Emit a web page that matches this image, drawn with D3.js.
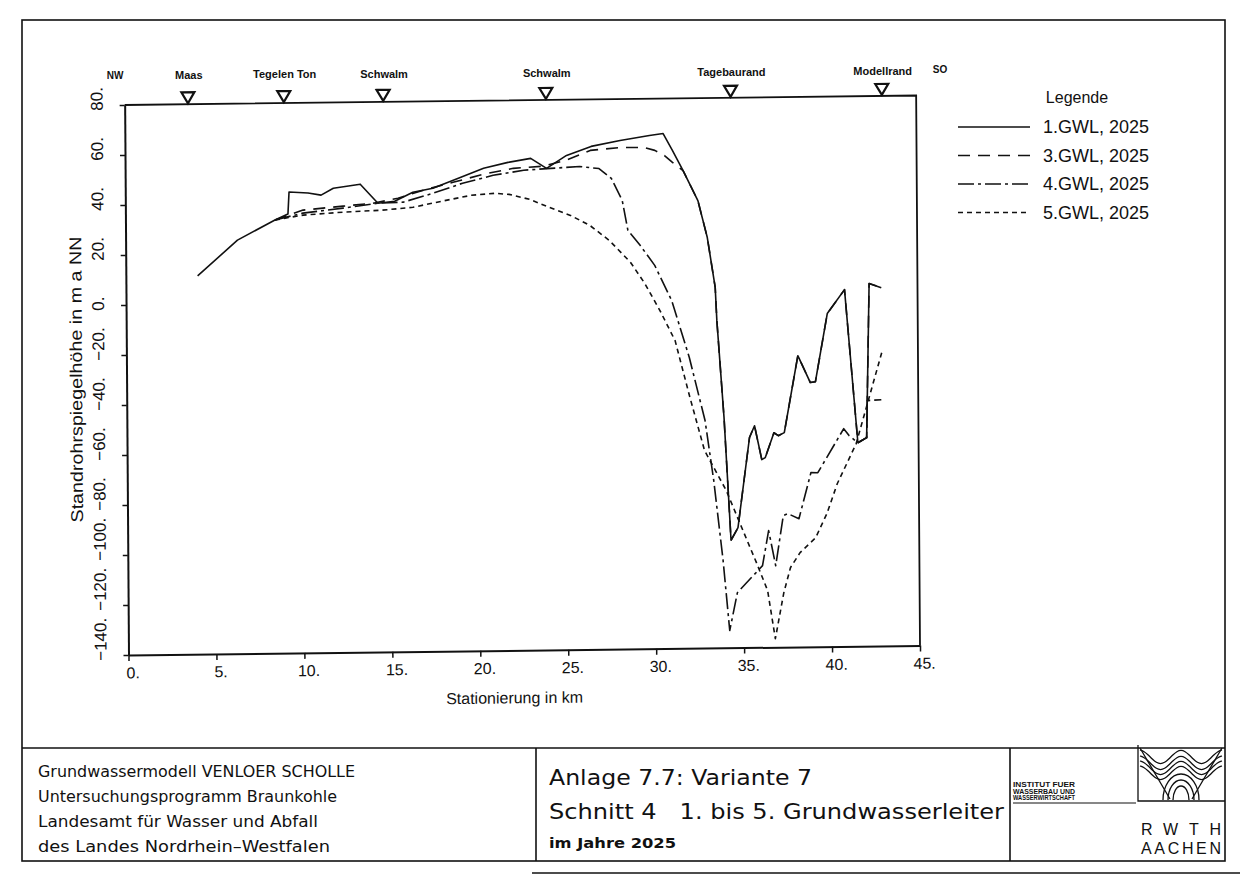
<!DOCTYPE html>
<html>
<head>
<meta charset="utf-8">
<script src="https://cdn.jsdelivr.net/npm/d3@7"></script>
<style>
	body { margin: 0; background: #fff; }
	svg { display: block; }
	text { font-family: "Liberation Sans", Arial, sans-serif; fill: #111; }
</style>
</head>
<body>
<script>
/* Data: [Stationierung km, Standrohrspiegelhoehe m] */
const gwl1 = [
	[4.08, 11.3], [6.36, 25.4], [8.5, 33.3], [9.24, 35.6], [9.31, 44.4], [10.39, 43.9],
	[11.13, 43.0], [11.83, 45.7], [13.36, 47.2], [14.36, 39.5], [15.31, 40.2], [16.35, 43.7],
	[17.49, 45.2], [18.94, 49.1], [20.38, 53.0], [21.77, 55.2], [23.06, 56.7], [23.96, 52.6],
	[25.1, 57.7], [26.5, 61.2], [28.15, 63.4], [29.82, 65.3], [30.6, 66.0], [31.12, 59.2],
	[31.72, 51.1], [32.55, 39.0], [33.07, 24.2], [33.5, 4.2], [33.58, -9.0], [33.95, -47.9],
	[34.3, -97.0], [34.7, -92.0], [35.39, -56.0], [35.68, -51.3], [36.08, -64.9], [36.28, -64.1],
	[36.78, -54.2], [37.03, -55.4], [37.37, -54.2], [38.17, -23.5], [38.87, -34.3], [39.16, -34.0],
	[39.86, -6.8], [40.85, 2.7], [41.55, -58.6], [42.05, -56.6], [42.25, 5.0], [42.94, 3.3]
];

const gwl3 = [
	[8.5, 33.3], [10.1, 37.1], [12.38, 38.5], [14.07, 39.5], [15.5, 41.4], [16.95, 44.5],
	[18.64, 47.5], [20.38, 50.6], [22.07, 52.8], [23.76, 53.5], [25.05, 55.7], [26.45, 59.6],
	[28.15, 60.6], [29.52, 60.5], [30.12, 59.3], [30.67, 57.2], [31.12, 54.4], [31.72, 51.1],
	[32.55, 39.0], [33.07, 24.2], [33.5, 4.2], [33.58, -9.0], [33.95, -47.9], [34.3, -97.0],
	[34.7, -92.0], [35.39, -56.0], [35.68, -51.3], [36.08, -64.9], [36.28, -64.1], [36.78, -54.2],
	[37.03, -55.4], [37.37, -54.2], [38.17, -23.5], [38.87, -34.3], [39.16, -34.0], [39.86, -6.8],
	[40.85, 2.7], [41.55, -58.6], [42.05, -56.6], [42.25, 5.0], [42.94, 3.3]
];

const gwl4 = [
	[8.5, 33.3], [10.09, 35.9], [12.38, 37.7], [14.36, 39.5], [15.8, 39.8], [17.49, 43.2],
	[19.18, 47.1], [20.92, 50.1], [22.66, 52.0], [24.2, 52.6], [25.84, 53.2], [26.94, 52.3],
	[27.64, 48.3], [28.25, 39.4], [28.56, 27.4], [29.26, 21.3], [30.07, 13.3], [31.02, -0.8],
	[32.0, -23.7], [32.87, -49.0], [33.34, -73.0], [33.84, -105.0], [34.19, -133.1], [34.64, -118.0],
	[36.08, -107.3], [36.44, -93.3], [36.83, -107.4], [37.28, -87.4], [37.53, -86.6], [38.17, -88.7],
	[38.87, -70.3], [39.26, -70.4], [40.75, -52.9], [41.05, -55.7], [41.55, -58.6], [42.05, -56.6],
	[42.1, -41.8], [42.9, -41.5]
];

const gwl5 = [
	[8.5, 33.3], [10.1, 35.1], [12.38, 36.1], [14.61, 36.7], [16.35, 37.7], [18.0, 40.0],
	[19.65, 42.2], [21.02, 42.9], [21.82, 42.4], [23.0, 40.3], [24.1, 37.0], [25.3, 33.7],
	[26.4, 29.6], [27.5, 23.5], [28.7, 14.6], [29.5, 6.1], [30.35, -4.8], [31.2, -16.9],
	[32.02, -39.7], [32.83, -61.0], [34.05, -77.1], [34.82, -90.4], [35.76, -106.5], [36.36, -117.3],
	[36.78, -136.6], [37.28, -118.2], [37.67, -108.2], [38.22, -102.3], [39.11, -96.4], [39.76, -86.8],
	[40.36, -74.9], [41.45, -59.0], [42.94, -22.7]
];

const seriesNames = ["1.GWL, 2025", "3.GWL, 2025", "4.GWL, 2025", "5.GWL, 2025"];
const seriesValues = [gwl1, gwl3, gwl4, gwl5];
const seriesDash = [null, "12,8", "16,4,3,4", "5,4"];

const xTicks = [0, 5, 10, 15, 20, 25, 30, 35, 40, 45];
const yTicks = [-140, -120, -100, -80, -60, -40, -20, 0, 20, 40, 60, 80];

const markerNames = ["Maas", "Tegelen Ton", "Schwalm", "Schwalm", "Tagebaurand", "Modellrand"];
const markerKm = [3.6, 9.05, 14.7, 23.95, 34.45, 43.05];

const blockLeft = [
	"Grundwassermodell VENLOER SCHOLLE",
	"Untersuchungsprogramm Braunkohle",
	"Landesamt für Wasser und Abfall",
	"des Landes Nordrhein\u2013Westfalen"
];
const blockLeftWidth = [317, 299, 280, 292];
const instituteLines = ["INSTITUT FUER", "WASSERBAU UND", "WASSERWIRTSCHAFT"];

/* Page */
const width = 1250;
const height = 879;

const svg = d3.select("body").append("svg")
	.attr("width", width)
	.attr("height", height);

const page = svg.append("g");

// the plotted diagram sits slightly skewed on the scanned sheet
const plot = page.append("g")
	.attr("transform", "translate(128,655) matrix(1,-0.012,0.007,1,0,0) translate(-128,-655)");

const xScale = d3.scaleLinear().domain([0, 45]).range([128.5, 920]);
const yScale = d3.scaleLinear().domain([-140, 80]).range([655, 105]);

/* Sheet frame and title block */
const frame = page.append("g")
	.attr("fill", "none")
	.attr("stroke", "#111")
	.attr("stroke-width", 1.6);

frame.append("rect")
	.attr("x", 22).attr("y", 20)
	.attr("width", 1203).attr("height", 841);
frame.append("line").attr("x1", 22).attr("x2", 1225).attr("y1", 748).attr("y2", 748);
frame.append("line").attr("x1", 536).attr("x2", 536).attr("y1", 748).attr("y2", 861);
frame.append("line").attr("x1", 1010).attr("x2", 1010).attr("y1", 748).attr("y2", 861);
frame.append("line").attr("x1", 532).attr("x2", 1240).attr("y1", 873).attr("y2", 873)
	.attr("stroke-width", 1.3);

page.append("g")
	.selectAll("text")
	.data(blockLeft)
	.join("text")
	.attr("x", 38)
	.attr("y", (d, i) => 777 + i * 25)
	.attr("textLength", (d, i) => blockLeftWidth[i])
	.attr("lengthAdjust", "spacingAndGlyphs")
	.style("font-family", "'DejaVu Sans', sans-serif")
	.style("font-size", "15px")
	.text((d) => d);

page.append("text")
	.attr("x", 549).attr("y", 785)
	.attr("textLength", 263)
	.attr("lengthAdjust", "spacingAndGlyphs")
	.style("font-family", "'DejaVu Sans', sans-serif")
	.style("font-size", "21px")
	.text("Anlage 7.7: Variante 7");

page.append("text")
	.attr("x", 549).attr("y", 819)
	.attr("textLength", 455)
	.attr("lengthAdjust", "spacingAndGlyphs")
	.style("white-space", "pre")
	.style("font-family", "'DejaVu Sans', sans-serif")
	.style("font-size", "21px")
	.text("Schnitt 4   1. bis 5. Grundwasserleiter");

page.append("text")
	.attr("x", 549).attr("y", 848)
	.attr("textLength", 127)
	.attr("lengthAdjust", "spacingAndGlyphs")
	.style("font-family", "'DejaVu Sans', sans-serif")
	.style("font-size", "14px")
	.style("font-weight", "bold")
	.text("im Jahre 2025");

/* Institute stamp */
page.append("g")
	.selectAll("text")
	.data(instituteLines)
	.join("text")
	.attr("x", 1013)
	.attr("y", (d, i) => 787 + i * 6.5)
	.attr("textLength", 62)
	.attr("lengthAdjust", "spacingAndGlyphs")
	.style("font-size", "7px")
	.style("font-weight", "bold")
	.text((d) => d);

frame.append("line").attr("x1", 1013).attr("x2", 1136).attr("y1", 803).attr("y2", 803)
	.attr("stroke-width", 1.2);

/* RWTH logo */
const logo = page.append("g")
	.attr("fill", "none")
	.attr("stroke", "#111")
	.attr("stroke-width", 1.3);

logo.append("path").attr("d", "M1138,745 L1138,801 L1225,801");

const waveLine = d3.line().curve(d3.curveBasis);
[0, 6, 11, 16].forEach((off) => {
	const pts = d3.range(0, 1.0001, 0.05).map((t) => [1140 + t * 82, 757 + off - 7 * Math.cos(t * 4 * Math.PI)]);
	logo.append("path").attr("d", waveLine(pts));
});
[[18, 26], [13, 20], [8, 14]].forEach(([rx, ry]) => {
	logo.append("path")
		.attr("d", `M${1181 - rx},800 A${rx},${ry} 0 0 1 ${1181 + rx},800`);
});
logo.append("path").attr("d", "M1140,748 L1170,799 M1222,748 L1192,799");

page.append("text")
	.attr("x", 1141).attr("y", 835)
	.attr("textLength", 80)
	.attr("lengthAdjust", "spacing")
	.style("font-size", "16px")
	.text("RWTH");

page.append("text")
	.attr("x", 1141).attr("y", 854)
	.attr("textLength", 80)
	.attr("lengthAdjust", "spacing")
	.style("font-size", "16px")
	.text("AACHEN");

/* Plot frame */
plot.append("path")
	.attr("d", `M${xScale(0)},${yScale(80)} L${xScale(45)},${yScale(80)} L${xScale(45)},${yScale(-140)}`)
	.attr("fill", "none")
	.attr("stroke", "#111")
	.attr("stroke-width", 1.8);

const xAxis = plot.append("g")
	.attr("transform", `translate(0,${yScale(-140)})`)
	.call(d3.axisBottom(xScale)
		.tickValues(xTicks)
		.tickFormat((d) => d + ".")
		.tickSize(6)
		.tickSizeOuter(0)
		.tickPadding(6));

xAxis.select(".domain").attr("stroke", "#111").attr("stroke-width", 2);
xAxis.selectAll(".tick line").attr("stroke", "#111").attr("stroke-width", 1.5);
xAxis.selectAll(".tick text")
	.attr("x", 4)
	.attr("fill", "#111")
	.style("font-family", "'Liberation Sans', Arial, sans-serif")
	.style("font-size", "16px");

const yAxis = plot.append("g")
	.attr("transform", `translate(${xScale(0)},0)`)
	.call(d3.axisLeft(yScale)
		.tickValues(yTicks)
		.tickFormat((d) => (d < 0 ? "\u2212" + Math.abs(d) : d) + ".")
		.tickSize(5)
		.tickSizeOuter(0));

yAxis.select(".domain").attr("stroke", "#111").attr("stroke-width", 2);
yAxis.selectAll(".tick line").attr("stroke", "#111").attr("stroke-width", 1.5);
// labels run upward, starting just below their tick
yAxis.selectAll(".tick text")
	.attr("x", null)
	.attr("dy", null)
	.attr("transform", "translate(-22,5) rotate(-90)")
	.attr("text-anchor", "start")
	.attr("fill", "#111")
	.style("font-family", "'Liberation Sans', Arial, sans-serif")
	.style("font-size", "17px");

plot.append("text")
	.attr("transform", "translate(84,379) rotate(-90)")
	.attr("text-anchor", "middle")
	.attr("textLength", 286)
	.attr("lengthAdjust", "spacingAndGlyphs")
	.style("font-size", "17px")
	.text("Standrohrspiegelhöhe in m a NN");

plot.append("text")
	.attr("x", (xScale(0) + xScale(45)) / 2 - 10)
	.attr("y", 708)
	.attr("text-anchor", "middle")
	.style("font-size", "16px")
	.text("Stationierung in km");

/* Section markers along the top */
plot.append("g")
	.selectAll("path")
	.data(markerKm)
	.join("path")
	.attr("d", (d) => {
		const cx = xScale(d);
		const top = yScale(80) - 12;
		return `M${cx - 6.5},${top} L${cx + 6.5},${top} L${cx},${yScale(80) - 1} Z`;
	})
	.attr("fill", "#fff")
	.attr("stroke", "#111")
	.attr("stroke-width", 2.2);

// marker labels follow the sheet, which is tilted less than the diagram
const labelY = (x) => 79 - 0.005 * (x - 128);

page.append("g")
	.selectAll("text")
	.data(markerKm)
	.join("text")
	.attr("x", (d) => xScale(d) - 3)
	.attr("y", (d) => labelY(xScale(d)))
	.attr("text-anchor", "middle")
	.style("font-size", "11px")
	.style("font-weight", "bold")
	.text((d, i) => markerNames[i]);

page.append("text")
	.attr("x", 115).attr("y", labelY(115))
	.attr("text-anchor", "middle")
	.style("font-size", "10px")
	.style("font-weight", "bold")
	.text("NW");

page.append("text")
	.attr("x", 940).attr("y", labelY(940) - 2)
	.attr("text-anchor", "middle")
	.style("font-size", "10px")
	.style("font-weight", "bold")
	.text("SO");

/* Curves */
const line = d3.line()
	.x((d) => xScale(d[0]))
	.y((d) => yScale(d[1]));

plot.append("g")
	.selectAll("path")
	.data(seriesValues)
	.join("path")
	.attr("d", line)
	.attr("fill", "none")
	.attr("stroke", "#111")
	.attr("stroke-width", 1.6)
	.attr("stroke-linejoin", "round")
	.attr("stroke-dasharray", (d, i) => seriesDash[i]);

/* Legend */
const legend = page.append("g")
	.attr("transform", "translate(958,127)");

legend.append("text")
	.attr("x", 119).attr("y", -24)
	.attr("text-anchor", "middle")
	.style("font-size", "16px")
	.text("Legende");

const legendItems = legend.selectAll(".item")
	.data(seriesNames)
	.join("g")
	.attr("class", "item")
	.attr("transform", (d, i) => `translate(0,${i * 28.5})`);

legendItems.append("line")
	.attr("x1", 0).attr("x2", 72)
	.attr("stroke", "#111")
	.attr("stroke-width", 1.6)
	.attr("stroke-dasharray", (d, i) => seriesDash[i]);

legendItems.append("text")
	.attr("x", 85)
	.attr("dy", "0.36em")
	.style("font-size", "18px")
	.text((d) => d);
</script>
</body>
</html>
